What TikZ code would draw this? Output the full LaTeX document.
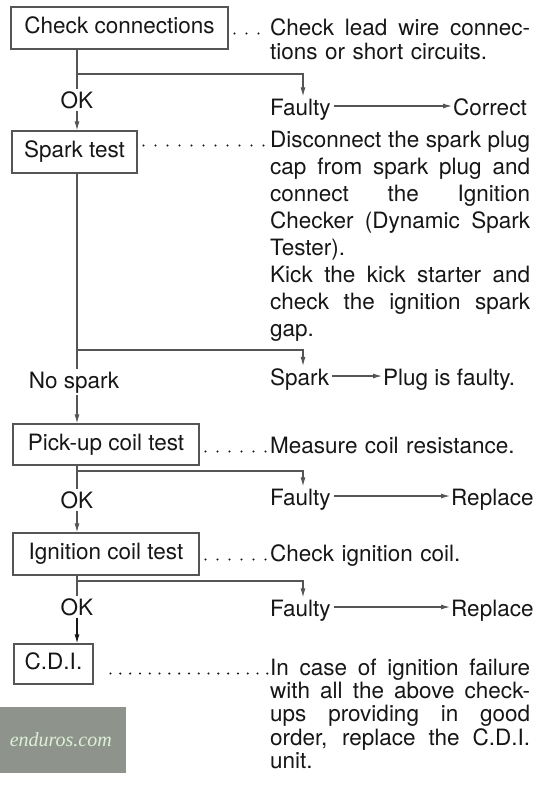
\documentclass[tikz,border=0pt]{standalone}
\usepackage{fontspec}
\setmainfont{TeX Gyre Heros}
\newfontfamily\wmfont{Liberation Serif}
\usetikzlibrary{arrows.meta,positioning}

\definecolor{ink}{HTML}{161616}
\definecolor{wire}{HTML}{555555}
\definecolor{wmgray}{HTML}{8E948C}
\definecolor{wmtext}{HTML}{DDF0D6}

\newlength{\descw}
\setlength{\descw}{260pt}
\newcommand{\jl}[1]{\makebox[\descw][s]{\spaceskip=0.278em plus 1fil\relax #1}}

\begin{document}
\begin{tikzpicture}[
    x=1pt, y=-1pt,
    every node/.style={font=\fontsize{22.5}{27}\selectfont, text=ink},
    box/.style={rectangle, draw=wire, line width=1.1pt, inner sep=0pt,
                text height=16pt, text depth=5pt},
    desc/.style={anchor=base west, align=left, text width=\descw, inner sep=0pt},
    row/.style={anchor=base west, inner sep=0pt},
    lbl/.style={anchor=base, inner sep=2pt},
    ln/.style={draw=wire, line width=1.1pt},
    arr/.style={ln, -{Latex[length=9pt, width=5pt]}},
    lead/.style={draw=ink, line width=2.3pt, line cap=round,
                 dash pattern=on 0pt off 12pt, transform canvas={yshift=1.5pt}},
  ]
  \useasboundingbox (0,0) rectangle (548,785);

  % test boxes
  \node[box, minimum width=217pt, minimum height=42pt] (cc) at (119.5,28) {Check connections};
  \node[box, minimum width=125pt, minimum height=42pt] (sp) at (74.5,152) {Spark test};
  \node[box, minimum width=186pt, minimum height=41pt] (pu) at (106,444.5) {Pick-up coil test};
  \node[box, minimum width=186pt, minimum height=42pt] (ig) at (106,554) {Ignition coil test};
  \node[box, minimum width=79pt, minimum height=40pt] (cdi) at (53.5,664) {C.D.I.};

  % what to do
  \node[desc, font=\fontsize{22.5}{24.5}\selectfont] (dcc) at (270,35)
    {\jl{Check lead wire connec-}\\
     tions or short circuits.};
  \node[desc] (dsp) at (270,147)
    {\jl{Disconnect the spark plug}\\
     \jl{cap from spark plug and}\\
     \jl{connect the Ignition}\\
     \jl{Checker (Dynamic Spark}\\
     Tester).\\
     \jl{Kick the kick starter and}\\
     \jl{check the ignition spark}\\
     gap.};
  \node[desc] (dpu) at (270,453) {Measure coil resistance.};
  \node[desc] (dig) at (270,561) {Check ignition coil.};
  \node[desc, font=\fontsize{22.5}{23.4}\selectfont] (dcdi) at (270,675)
    {\jl{In case of ignition failure}\\
     \jl{with all the above check-}\\
     \jl{ups providing in good}\\
     \jl{order, replace the C.D.I.}\\
     unit.};

  % results
  \node[row] (f1) at (270,115) {Faulty};
  \node[row] (c1) at (453,115) {Correct};
  \node[row] (sk) at (270,385) {Spark};
  \node[row] (pf) at (383,385) {Plug is faulty.};
  \node[row] (f2) at (270,505) {Faulty};
  \node[row] (r2) at (451,505) {Replace};
  \node[row] (f3) at (270,616) {Faulty};
  \node[row] (r3) at (451,616) {Replace};

  \node[lbl] (ok1) at (77,108) {OK};
  \node[lbl] (nsp) at (74,388) {No spark};
  \node[lbl] (ok2) at (77,508) {OK};
  \node[lbl] (ok3) at (77,615) {OK};

  \coordinate (j1) at (77,74);
  \coordinate (j2) at (77,350);
  \coordinate (j3) at (77,471);
  \coordinate (j4) at (77,581);
  \coordinate (rx) at (303,0);

  % flow
  \draw[ln] (cc.south -| j1) -- (j1) -- (ok1);
  \draw[arr, shorten >=2pt] (j1) -| (rx |- f1.north);
  \draw[arr] (ok1) -- (sp.north -| j1);

  \draw[ln] (sp.south -| j2) -- (j2) -- (j2 |- nsp.north);
  \draw[arr, shorten >=2pt] (j2) -| (rx |- sk.north);
  \draw[arr] (j2 |- nsp.south) -- (pu.north -| j2);

  \draw[ln] (pu.south -| j3) -- (j3) -- (ok2);
  \draw[arr, shorten >=2pt] (j3) -| (rx |- f2.north);
  \draw[arr] (ok2) -- (ig.north -| j3);

  \draw[ln] (ig.south -| j4) -- (j4) -- (ok3);
  \draw[arr, shorten >=2pt] (j4) -| (rx |- f3.north);
  \draw[arr, draw=ink] (ok3) -- (cdi.north -| j4);

  \draw[arr, shorten <=3pt, shorten >=1pt] ([yshift=9pt]f1.base east) -- ([yshift=9pt]c1.base west);
  \draw[arr, shorten <=3pt, shorten >=1pt] ([yshift=9pt]sk.base east) -- ([yshift=9pt]pf.base west);
  \draw[arr, shorten <=3pt, shorten >=1pt] ([yshift=9pt]f2.base east) -- ([yshift=9pt]r2.base west);
  \draw[arr, shorten <=3pt, shorten >=1pt] ([yshift=9pt]f3.base east) -- ([yshift=9pt]r3.base west);

  % leaders
  \draw[lead, shorten <=6pt, shorten >=4pt] (cc.east |- dcc.base west) -- (dcc.base west);
  \draw[lead, shorten <=6pt, shorten >=4pt] (sp.east |- dsp.base west) -- (dsp.base west);
  \draw[lead, shorten <=6pt, shorten >=4pt] (pu.east |- dpu.base west) -- (dpu.base west);
  \draw[lead, shorten <=6pt, shorten >=4pt] (ig.east |- dig.base west) -- (dig.base west);
  \draw[lead, dash pattern=on 0pt off 9.8pt, shorten <=17pt, shorten >=2pt]
    (cdi.east |- dcdi.base west) -- (dcdi.base west);

  % watermark
  \fill[wmgray] (0,707) rectangle (126,773);
  \node[anchor=east, inner sep=0pt, text=wmtext, font=\wmfont\itshape\fontsize{20}{24}\selectfont] (wm) at (112,740) {enduros.com};
\end{tikzpicture}
\end{document}
